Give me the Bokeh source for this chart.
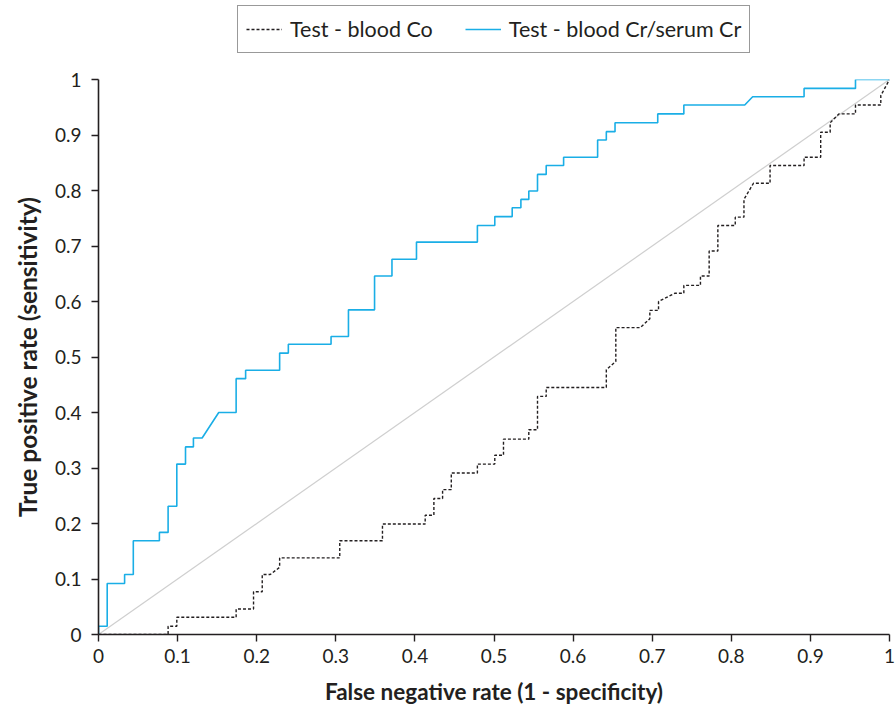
from bokeh.plotting import figure
from bokeh.models import Range1d, FixedTicker, CustomJSTickFormatter, Legend, LegendItem
from bokeh.layouts import column
from bokeh.embed import file_html
from bokeh.resources import INLINE

# Test - blood Cr/serum Cr ROC path (false negative rate, true positive rate)
cr_fpr = [0, 0, 0.011, 0.011, 0.033, 0.033, 0.044, 0.044, 0.077, 0.077, 0.088, 0.088,
          0.099, 0.099, 0.110, 0.110, 0.120, 0.120, 0.131, 0.152, 0.174, 0.174, 0.186, 0.186,
          0.229, 0.229, 0.240, 0.240, 0.294, 0.294, 0.316, 0.316, 0.349, 0.349, 0.371, 0.371,
          0.402, 0.402, 0.479, 0.479, 0.501, 0.501, 0.523, 0.523, 0.534, 0.534, 0.544, 0.544,
          0.555, 0.555, 0.566, 0.566, 0.588, 0.588, 0.631, 0.631, 0.642, 0.642, 0.653, 0.653,
          0.707, 0.707, 0.740, 0.740, 0.817, 0.827, 0.892, 0.892, 0.957, 0.957, 1.0]
cr_tpr = [0, 0.015, 0.015, 0.092, 0.092, 0.108, 0.108, 0.169, 0.169, 0.184, 0.184, 0.231,
          0.231, 0.307, 0.307, 0.338, 0.338, 0.354, 0.354, 0.400, 0.400, 0.461, 0.461, 0.476,
          0.476, 0.507, 0.507, 0.523, 0.523, 0.537, 0.537, 0.585, 0.585, 0.646, 0.646, 0.676,
          0.676, 0.707, 0.707, 0.737, 0.737, 0.753, 0.753, 0.769, 0.769, 0.784, 0.784, 0.799,
          0.799, 0.829, 0.829, 0.845, 0.845, 0.860, 0.860, 0.891, 0.891, 0.906, 0.906, 0.922,
          0.922, 0.938, 0.938, 0.954, 0.954, 0.969, 0.969, 0.984, 0.984, 1.0, 1.0]

# Test - blood Co ROC path
co_fpr = [0, 0.088, 0.088, 0.099, 0.099, 0.174, 0.174, 0.196, 0.196, 0.207, 0.207, 0.217,
          0.229, 0.229, 0.305, 0.305, 0.359, 0.359, 0.413, 0.413, 0.424, 0.424, 0.435, 0.435,
          0.446, 0.446, 0.479, 0.479, 0.501, 0.501, 0.512, 0.512, 0.544, 0.544, 0.555, 0.555,
          0.566, 0.566, 0.642, 0.642, 0.654, 0.654, 0.685, 0.697, 0.697, 0.708, 0.708, 0.729,
          0.740, 0.740, 0.761, 0.761, 0.772, 0.772, 0.783, 0.783, 0.805, 0.805, 0.816, 0.816,
          0.828, 0.849, 0.849, 0.892, 0.892, 0.913, 0.913, 0.925, 0.925, 0.936, 0.957, 0.957,
          0.989, 0.989, 1.0]
co_tpr = [0, 0, 0.015, 0.015, 0.031, 0.031, 0.046, 0.046, 0.077, 0.077, 0.108, 0.108,
          0.121, 0.138, 0.138, 0.169, 0.169, 0.199, 0.199, 0.215, 0.215, 0.245, 0.245, 0.261,
          0.261, 0.291, 0.291, 0.307, 0.307, 0.323, 0.323, 0.352, 0.352, 0.369, 0.369, 0.429,
          0.429, 0.445, 0.445, 0.477, 0.492, 0.553, 0.553, 0.569, 0.584, 0.584, 0.600, 0.615,
          0.615, 0.629, 0.629, 0.646, 0.646, 0.691, 0.691, 0.737, 0.737, 0.752, 0.752, 0.784,
          0.813, 0.813, 0.845, 0.845, 0.860, 0.860, 0.905, 0.905, 0.922, 0.938, 0.938, 0.954,
          0.954, 0.971, 1.0]

ref_x = [0, 1]
ref_y = [0, 1]
ticks = [0, 0.1, 0.2, 0.3, 0.4, 0.5, 0.6, 0.7, 0.8, 0.9, 1.0]
series_labels = ["Test - blood Co", "Test - blood Cr/serum Cr"]

FONT = "Lato"
TXT = "#231f20"
CO_COLOR = "#231f20"
CR_COLOR = "#1aaee6"

# ---- main chart ----
p = figure(width=895, height=653, output_backend="svg", toolbar_location=None,
           x_range=Range1d(0, 1), y_range=Range1d(0, 1),
           min_border_left=98, min_border_right=6, min_border_top=19, min_border_bottom=79)
p.outline_line_color = None
p.grid.visible = False

p.line(ref_x, ref_y, line_color="#cfcfcf", line_width=1.2)
p.line(co_fpr, co_tpr, line_color=CO_COLOR, line_width=1.4, line_dash="3 2")
p.line(cr_fpr, cr_tpr, line_color=CR_COLOR, line_width=1.6)

fmt = CustomJSTickFormatter(code="var s = tick.toFixed(1); return s.replace(/\\.0$/, '');")
for ax in (p.xaxis[0], p.yaxis[0]):
    ax.ticker = FixedTicker(ticks=ticks)
    ax.formatter = fmt
    ax.minor_tick_line_color = None
    ax.major_tick_out = 7
    ax.major_tick_in = 0
    ax.axis_line_color = TXT
    ax.axis_line_width = 1.6
    ax.major_tick_line_color = TXT
    ax.major_tick_line_width = 1.4
    ax.major_label_text_font = FONT
    ax.major_label_text_font_size = "19px"
    ax.major_label_text_color = TXT
    ax.axis_label_text_font = FONT
    ax.axis_label_text_font_style = "bold"
    ax.axis_label_text_color = TXT

p.xaxis.axis_label = "False negative rate (1 - specificity)"
p.yaxis.axis_label = "True positive rate (sensitivity)"
p.xaxis.axis_label_text_font_size = "22.5px"
p.yaxis.axis_label_text_font_size = "24.5px"
p.xaxis.major_label_standoff = 7
p.xaxis.axis_label_standoff = 12
p.yaxis.major_label_standoff = 10
p.yaxis.axis_label_standoff = 10

# ---- legend strip above the chart ----
# the same series are drawn here only as legend sources; the view range keeps them off-screen
lg = figure(width=895, height=60, output_backend="svg", toolbar_location=None,
            x_range=Range1d(10, 11), y_range=Range1d(10, 11),
            x_axis_location=None, y_axis_location=None, min_border=0)
lg.outline_line_color = None
lg.grid.visible = False
d_co = lg.line(co_fpr, co_tpr, line_color=CO_COLOR, line_width=1.4, line_dash="3 2")
d_cr = lg.line(cr_fpr, cr_tpr, line_color=CR_COLOR, line_width=1.6)

legend = Legend(items=[LegendItem(label=series_labels[0], renderers=[d_co]),
                       LegendItem(label=series_labels[1], renderers=[d_cr])],
                orientation="horizontal", location=(139, 7))
legend.label_text_font = FONT
legend.label_text_font_size = "21.5px"
legend.label_text_color = TXT
legend.border_line_color = "#333333"
legend.border_line_width = 1.2
legend.glyph_width = 36
legend.glyph_height = 30
legend.label_height = 30
legend.label_standoff = 8
legend.spacing = 32
legend.padding = 8
legend.margin = 0
legend.background_fill_alpha = 1
lg.add_layout(legend, "center")

layout = column(lg, p, spacing=0)
open("out.html", "w").write(file_html(layout, INLINE))
